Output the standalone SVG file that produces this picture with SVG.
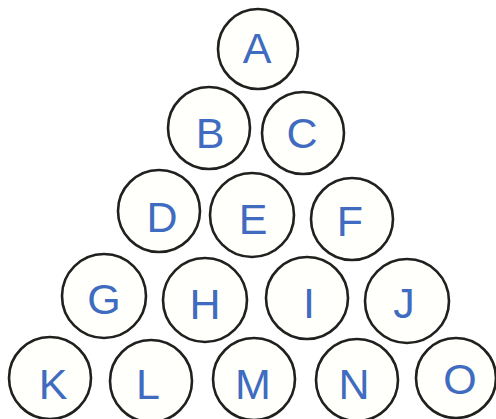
<svg xmlns="http://www.w3.org/2000/svg" width="496" height="419" viewBox="0 0 496 419">
<style>
.n circle{fill:#fffffb;stroke:#1e211e;stroke-width:2.6}
.n text{font-family:"Liberation Sans",Arial,sans-serif;font-size:43px;fill:#3f6cc0;text-anchor:middle}
</style>
<rect width="496" height="419" fill="#ffffff"/>
<g id="A" class="n"><circle cx="258" cy="49" r="40"/><text x="257" y="63">A</text></g>
<g id="B" class="n"><circle cx="209" cy="128" r="41"/><text x="210" y="148">B</text></g>
<g id="C" class="n"><circle cx="303" cy="133" r="41"/><text x="302" y="148">C</text></g>
<g id="D" class="n"><circle cx="159" cy="211" r="41"/><text x="162" y="232">D</text></g>
<g id="E" class="n"><circle cx="252" cy="215" r="42"/><text x="253" y="234">E</text></g>
<g id="F" class="n"><circle cx="352" cy="219" r="41"/><text x="350" y="236">F</text></g>
<g id="G" class="n"><circle cx="104" cy="296" r="42"/><text x="104" y="314">G</text></g>
<g id="H" class="n"><circle cx="205" cy="300" r="42"/><text x="205" y="319">H</text></g>
<g id="I" class="n"><circle cx="307" cy="298" r="41"/><text x="309" y="318">I</text></g>
<g id="J" class="n"><circle cx="407" cy="301" r="42"/><text x="404" y="318">J</text></g>
<g id="K" class="n"><circle cx="50" cy="378" r="41"/><text x="53" y="399">K</text></g>
<g id="L" class="n"><circle cx="151" cy="381" r="41"/><text x="148" y="399">L</text></g>
<g id="M" class="n"><circle cx="254" cy="379" r="41"/><text x="253" y="399">M</text></g>
<g id="N" class="n"><circle cx="357" cy="380" r="41"/><text x="354" y="399">N</text></g>
<g id="O" class="n"><circle cx="456" cy="378" r="40"/><text x="460" y="394">O</text></g>
<g id="connectors"></g>
</svg>
